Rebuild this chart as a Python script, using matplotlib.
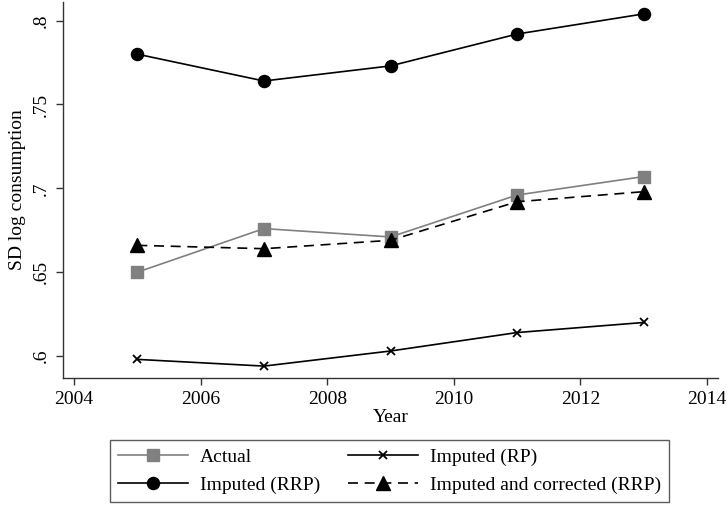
import matplotlib
matplotlib.use("Agg")
import matplotlib.pyplot as plt

years = [2005, 2007, 2009, 2011, 2013]
actual = [0.650, 0.676, 0.671, 0.696, 0.707]
imputed_rp = [0.598, 0.594, 0.603, 0.614, 0.620]
imputed_rrp = [0.780, 0.764, 0.773, 0.792, 0.804]
imputed_corr = [0.666, 0.664, 0.669, 0.692, 0.698]

xticks = [2004, 2006, 2008, 2010, 2012, 2014]
yticks = [0.6, 0.65, 0.7, 0.75, 0.8]
yticklabels = [".6", ".65", ".7", ".75", ".8"]

plt.rcParams['font.family'] = ['Liberation Serif', 'DejaVu Serif']
fs = 14

fig = plt.figure(figsize=(7.27, 5.08), dpi=100)
ax = fig.add_axes([62.7/727, 1-378/508, (718.3-62.7)/727, (378-1.5)/508])

l_act, = ax.plot(years, actual, color='#808080', lw=1.2, marker='s', ms=8.5,
                 markerfacecolor='#808080', markeredgecolor='#808080', label='Actual')
l_rp, = ax.plot(years, imputed_rp, color='black', lw=1.2, marker='x', ms=6, mew=1.3,
                label='Imputed (RP)')
l_rrp, = ax.plot(years, imputed_rrp, color='black', lw=1.2, marker='o', ms=8.7,
                 label='Imputed (RRP)')
l_cor, = ax.plot(years, imputed_corr, color='black', lw=1.2, marker='^', ms=9.5,
                 linestyle=(0, (6, 4)), label='Imputed and corrected (RRP)')

ax.set_xlim(2003.82, 2014.18)
ax.set_ylim(0.5869, 0.8114)
ax.set_xticks(xticks)
ax.set_xticklabels([str(x) for x in xticks], fontsize=fs)
ax.set_yticks(yticks)
ax.set_yticklabels(yticklabels, fontsize=fs, rotation=90, va='center')
ax.tick_params(axis='both', direction='out', length=5, width=1, color='#333333', pad=4)
for s in ['top', 'right']:
    ax.spines[s].set_visible(False)
for s in ['left', 'bottom']:
    ax.spines[s].set_color('#333333')
    ax.spines[s].set_linewidth(1.0)
ax.set_xlabel('Year', fontsize=fs, labelpad=1)
ax.set_ylabel('SD log consumption', fontsize=fs, labelpad=5)

leg = fig.legend([l_act, l_rrp, l_rp, l_cor],
                 ['Actual', 'Imputed (RRP)', 'Imputed (RP)', 'Imputed and corrected (RRP)'],
                 ncol=2, loc='center', bbox_to_anchor=(389.5/727, 1-471/508),
                 fontsize=fs, frameon=True, fancybox=False, handlelength=3.6,
                 handletextpad=0.6, columnspacing=1.45, labelspacing=0.55,
                 borderpad=0.4, borderaxespad=0)
leg.get_frame().set_edgecolor('#333333')
leg.get_frame().set_linewidth(1.0)

fig.savefig('out.png', dpi=100)
